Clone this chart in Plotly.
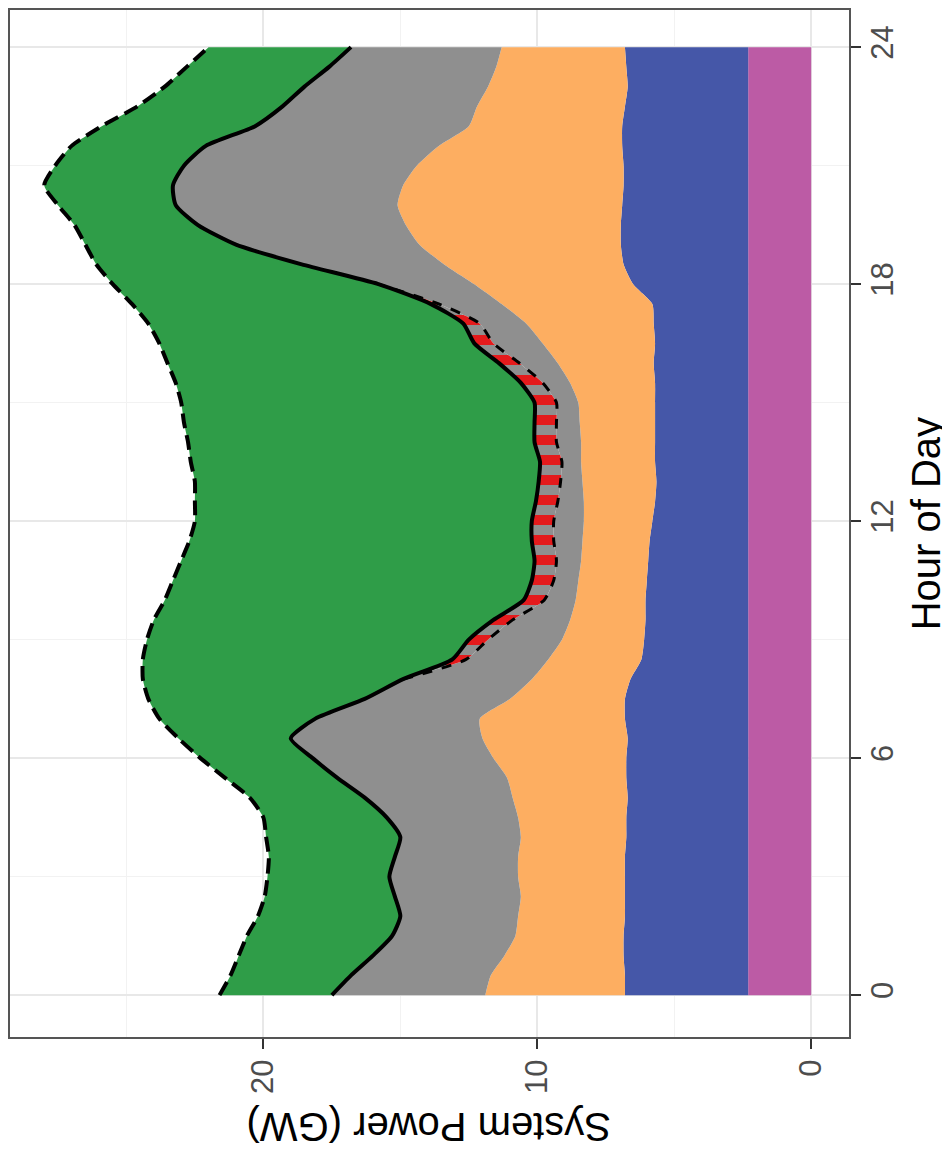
import numpy as np
import plotly.graph_objects as go

# hour of day, half-hour steps
HOURS = np.arange(0, 24.01, 0.5)

# stacked components (GW), bottom to top
MAGENTA = [2.3, 2.3, 2.3, 2.3, 2.3, 2.3, 2.3, 2.3, 2.3, 2.3, 2.3, 2.3, 2.3, 2.3, 2.3, 2.3, 2.3,
           2.3, 2.3, 2.3, 2.3, 2.3, 2.3, 2.3, 2.3, 2.3, 2.3, 2.3, 2.3, 2.3, 2.3, 2.3, 2.3, 2.3,
           2.3, 2.3, 2.3, 2.3, 2.3, 2.3, 2.3, 2.3, 2.3, 2.3, 2.3, 2.3, 2.3, 2.3, 2.3]
BLUE = [4.5, 4.5, 4.55, 4.55, 4.5, 4.5, 4.5, 4.5, 4.45, 4.45, 4.4, 4.45, 4.45, 4.4, 4.5, 4.5, 4.3,
        3.9, 3.8, 3.75, 3.75, 3.7, 3.65, 3.6, 3.5, 3.4, 3.35, 3.4, 3.4, 3.4, 3.4, 3.4, 3.45, 3.4,
        3.45, 3.5, 4.2, 4.55, 4.65, 4.65, 4.6, 4.55, 4.55, 4.6, 4.6, 4.5, 4.4, 4.45, 4.5]
ORANGE = [5.1, 4.9, 4.35, 3.95, 3.9, 3.8, 3.9, 3.9, 3.85, 3.95, 4.2, 4.35, 4.85, 5.3, 5.3, 4.2, 3.6,
          3.4, 3.0, 2.75, 2.55, 2.5, 2.45, 2.45, 2.5, 2.6, 2.7, 2.7, 2.7, 2.75, 2.8, 3.1, 3.5, 4.1,
          4.65, 5.5, 5.8, 6.55, 7.35, 7.85, 8.2, 8.05, 7.55, 6.7, 5.6, 5.4, 5.1, 4.75, 4.5]
GRAY = [5.6, 5.1, 4.8, 4.5, 4.3, 4.6, 4.7, 4.5, 4.4, 4.8, 5.4, 6.2, 6.6, 7.0, 6.0, 5.3, 4.7,
        3.0, 2.7, 2.1, 1.15, 0.9, 0.9, 1.05, 1.1, 0.95, 0.8, 0.7, 0.9, 0.85, 0.8, 1.0, 1.4, 1.8,
        1.7, 2.3, 3.5, 5.2, 6.7, 7.6, 8.1, 8.4, 8.5, 8.5, 7.8, 7.1, 6.7, 6.1, 5.5]
RED = [0, 0, 0, 0, 0, 0, 0, 0, 0, 0, 0, 0, 0, 0, 0, 0, 0,
       0.5, 0.7, 0.7, 0.75, 0.8, 0.8, 0.8, 0.8, 0.8, 0.8, 0.8, 0.8, 0.8, 0.8, 0.8, 0.75, 0.7,
       0.6, 0.3, 0, 0, 0, 0, 0, 0, 0, 0, 0, 0, 0, 0, 0]
GREEN = [4.1, 4.4, 4.9, 5.3, 5.2, 4.75, 4.45, 4.6, 4.9, 4.5, 4.2, 4.1, 4.1, 4.1, 5.7, 7.9, 9.5,
         11.3, 11.75, 12.4, 13.1, 13.1, 12.9, 12.5, 12.3, 12.45, 12.55, 12.75, 12.65, 12.8, 12.9,
         12.6, 12.1, 11.5, 11.5, 10.9, 9.7, 7.5, 5.5, 4.5, 4.3, 4.7, 4.7, 4.9, 5.6, 5.3, 5.1,
         5.2, 5.2]

X_TICKS = [0, 10, 20]
Y_TICKS = [0, 6, 12, 18, 24]

FONT = "Liberation Sans, Arial, sans-serif"
SHAPE = dict(shape="spline", smoothing=0.6)

fig = go.Figure()

layers = [(MAGENTA, "#BC5BA5"), (BLUE, "#4557A8"), (ORANGE, "#FDAE61"), (GRAY, "#8F8F8F")]
for vals, col in layers:
    fig.add_trace(go.Scatter(x=vals, y=HOURS, orientation="h", stackgroup="one",
                             mode="lines", line=dict(width=0, **SHAPE), fillcolor=col,
                             hoverinfo="skip", showlegend=False))

fig.add_trace(go.Scatter(x=RED, y=HOURS, orientation="h", stackgroup="one",
                         mode="lines", line=dict(width=0, **SHAPE), fillcolor="#8F8F8F",
                         fillpattern=dict(shape="-", fgcolor="#E41A1C", fgopacity=1,
                                          size=20, solidity=0.5, fillmode="overlay"),
                         hoverinfo="skip", showlegend=False))
fig.add_trace(go.Scatter(x=GREEN, y=HOURS, orientation="h", stackgroup="one",
                         mode="lines", line=dict(width=0, **SHAPE), fillcolor="#2F9D48",
                         hoverinfo="skip", showlegend=False))

# boundary lines from the stacked values
gray_top = np.cumsum([MAGENTA, BLUE, ORANGE, GRAY], axis=0)[-1]
solid = gray_top + np.array(RED)
total = solid + np.array(GREEN)
red_idx = [i for i in range(len(HOURS)) if RED[i] > 0 or
           (i + 1 < len(HOURS) and RED[i + 1] > 0) or (i > 0 and RED[i - 1] > 0)]

fig.add_trace(go.Scatter(x=gray_top[red_idx], y=HOURS[red_idx], mode="lines",
                         line=dict(color="black", width=3, dash="10px,10px", **SHAPE),
                         hoverinfo="skip", showlegend=False))
fig.add_trace(go.Scatter(x=solid, y=HOURS, mode="lines",
                         line=dict(color="black", width=4, **SHAPE),
                         hoverinfo="skip", showlegend=False))
fig.add_trace(go.Scatter(x=total, y=HOURS, mode="lines",
                         line=dict(color="black", width=4, dash="15px,7px", **SHAPE),
                         hoverinfo="skip", showlegend=False))

fig.update_xaxes(range=[29.25, -1.38], tickvals=X_TICKS, tickangle=-90,
                 ticks="outside", ticklen=10, tickwidth=2, tickcolor="#333333",
                 ticklabelstandoff=-2,
                 tickfont=dict(size=31, color="#4D4D4D", family=FONT),
                 showgrid=True, gridcolor="#E8E8E8", gridwidth=1.5, zeroline=False,
                 minor=dict(dtick=5, tick0=0, showgrid=True, gridcolor="#F2F2F2", gridwidth=1),
                 showline=True, linecolor="#555555", linewidth=2, mirror=True)
fig.update_yaxes(range=[-1.06, 24.94], tickvals=Y_TICKS, tickangle=-90, side="right",
                 ticks="outside", ticklen=10, tickwidth=2, tickcolor="#333333",
                 ticklabelstandoff=-5,
                 tickfont=dict(size=31, color="#4D4D4D", family=FONT),
                 showgrid=True, gridcolor="#E8E8E8", gridwidth=1.5, zeroline=False,
                 minor=dict(dtick=3, tick0=0, showgrid=True, gridcolor="#F2F2F2", gridwidth=1),
                 showline=True, linecolor="#555555", linewidth=2, mirror=True)

fig.add_annotation(text="System Power (GW)", xref="paper", yref="paper", x=0.5, y=-0.0875,
                   xanchor="center", yanchor="middle", textangle=180, showarrow=False,
                   font=dict(size=40, color="black", family=FONT))
fig.add_annotation(text="Hour of Day", xref="paper", yref="paper", x=1.0916, y=0.5,
                   xanchor="center", yanchor="middle", textangle=-90, showarrow=False,
                   font=dict(size=40, color="black", family=FONT))

fig.update_layout(width=942, height=1150, autosize=False,
                  margin=dict(l=1, r=101, t=0, b=121),
                  plot_bgcolor="white", paper_bgcolor="white",
                  font=dict(family=FONT))

fig.write_html("out.html")
